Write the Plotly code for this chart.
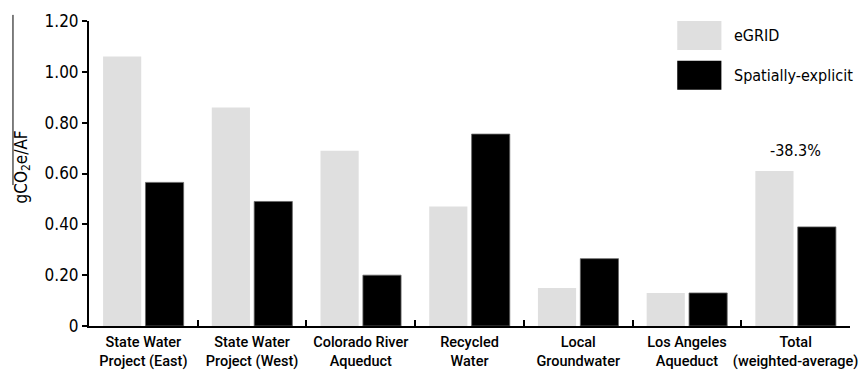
import plotly.graph_objects as go

categories = [
    "State Water<br>Project (East)",
    "State Water<br>Project (West)",
    "Colorado River<br>Aqueduct",
    "Recycled<br>Water",
    "Local<br>Groundwater",
    "Los Angeles<br>Aqueduct",
    "Total<br>(weighted-average)",
]
egrid = [1.06, 0.86, 0.69, 0.47, 0.15, 0.13, 0.61]
spatial = [0.565, 0.49, 0.20, 0.755, 0.265, 0.13, 0.39]
series_names = ["eGRID", "Spatially-explicit"]
ytick_vals = [0, 0.2, 0.4, 0.6, 0.8, 1.0, 1.2]
ytick_text = ["0", "0.20", "0.40", "0.60", "0.80", "1.00", "1.20"]
total_note = "-38.3%"

GRAY = "#dfdfdf"
BLACK = "#000000"
NARROW = "DejaVu Sans Condensed, Liberation Sans Narrow, Arial Narrow, sans-serif"
LABEL = "Roboto, Open Sans, DejaVu Sans, sans-serif"

fig = go.Figure()
fig.add_trace(go.Bar(x=categories, y=egrid, name=series_names[0],
                     marker=dict(color=GRAY, line=dict(width=0)), showlegend=False))
fig.add_trace(go.Bar(x=categories, y=spatial, name=series_names[1],
                     marker=dict(color=BLACK, line=dict(color="#666666", width=0.8)),
                     showlegend=False))

fig.update_layout(
    width=867, height=372,
    margin=dict(l=89, r=17, t=21, b=46),
    paper_bgcolor="white", plot_bgcolor="white",
    barmode="group", bargap=0.22, bargroupgap=0.1,
    showlegend=False,
)
fig.update_xaxes(
    type="category", automargin=False, tickangle=0,
    showline=True, linecolor="black", linewidth=2,
    ticks="inside", tickson="boundaries", ticklen=6, tickwidth=2, tickcolor="black",
    tickfont=dict(family=LABEL, size=14.5, color="black", weight=500),
    ticklabelstandoff=2,
    showgrid=False, zeroline=False,
)
fig.update_yaxes(
    range=[0, 1.2], automargin=False,
    showline=True, linecolor="black", linewidth=2,
    ticks="outside", ticklen=5, tickwidth=2, tickcolor="black",
    tickvals=ytick_vals, ticktext=ytick_text,
    tickfont=dict(family=NARROW, size=17, color="black"),
    showgrid=False, zeroline=False,
)

# y-axis title
fig.add_annotation(
    text="gCO<sub>2</sub>e/AF", textangle=-90,
    xref="paper", yref="paper", x=-0.088, y=0.52,
    xanchor="center", yanchor="middle", showarrow=False,
    font=dict(family=NARROW, size=17, color="black"),
)
# thin line at left edge of title
fig.add_shape(type="line", xref="paper", yref="paper",
              x0=-0.0999, x1=-0.0999, y0=1.02, y1=0.462,
              line=dict(color="black", width=1))

# custom legend
leg = [(series_names[0], GRAY, 1.0, 0.905), (series_names[1], BLACK, 0.87, 0.775)]
for name, col, y1, y0 in leg:
    fig.add_shape(type="rect", xref="paper", yref="paper",
                  x0=0.773, x1=0.831, y0=y0, y1=y1,
                  fillcolor=col, line=dict(width=0))
    fig.add_annotation(text=name, xref="paper", yref="paper",
                       x=0.845, y=(y0 + y1) / 2, xanchor="left", yanchor="middle",
                       showarrow=False,
                       font=dict(family=NARROW, size=16, color="black"))

# percentage note above total
fig.add_annotation(text=total_note, x=categories[-1], y=0.69,
                   xanchor="center", yanchor="middle", showarrow=False,
                   font=dict(family=NARROW, size=16, color="black"))

fig.write_html("out.html")
